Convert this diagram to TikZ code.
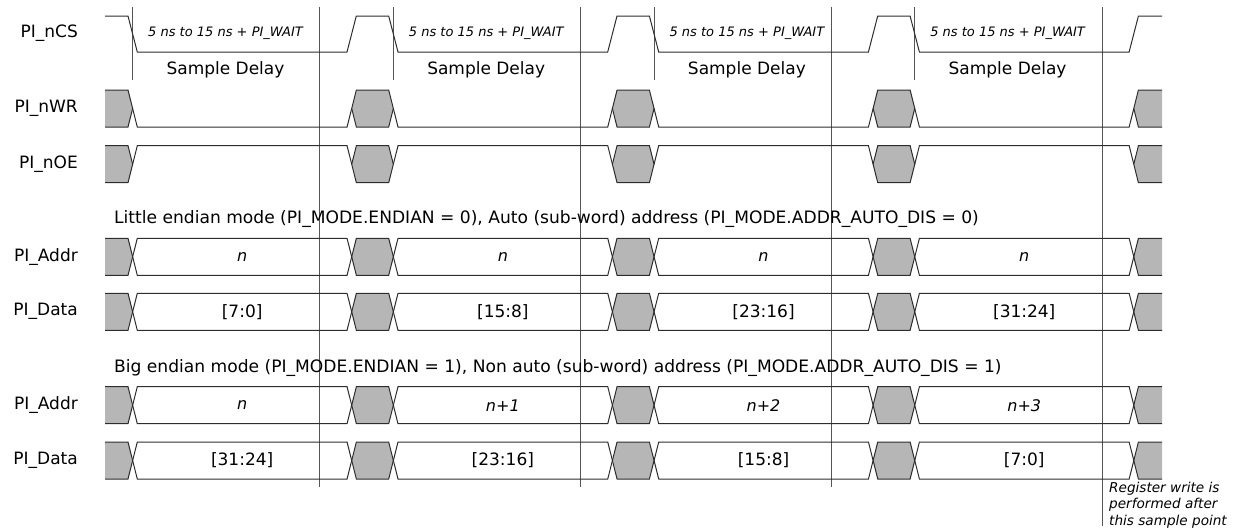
\documentclass[tikz,border=0pt]{standalone}
\usepackage{fontspec}
\setmainfont{DejaVu Sans}
\definecolor{sig}{RGB}{45,45,45}
\definecolor{hatch}{RGB}{182,182,182}
\definecolor{mark}{RGB}{85,85,85}
\tikzset{
  wave/.style={draw=sig, line width=1pt, line join=miter},
  inval/.style={wave, fill=hatch},
  smark/.style={draw=mark, line width=1pt},
  lab/.style={font=\fontsize{17}{17}\selectfont, inner sep=0pt, anchor=east},
  note/.style={font=\fontsize{17.1}{17}\selectfont, inner sep=0pt, anchor=west},
  val/.style={font=\fontsize{17}{17}\selectfont, inner sep=0pt},
  ival/.style={font=\itshape\fontsize{16}{16}\selectfont, inner sep=0pt},
  delay/.style={font=\itshape\fontsize{13}{13}\selectfont, inner sep=0pt},
  sdl/.style={font=\fontsize{17}{17}\selectfont, inner sep=0pt}
}
% hexagon: left point #2, right point #3, top #4, bottom #5
\newcommand\hexa[5][]{%
  \pgfmathsetmacro\hm{(#4+#5)/2}%
  \draw[#1] (#2,\hm) -- (#2+4.65,#4) -- (#3-4.65,#4) -- (#3,\hm) -- (#3-4.65,#5) -- (#2+4.65,#5) -- cycle;}
% bus row: top, bottom
\newcommand\busrow[2]{%
  \pgfmathsetmacro\hm{(#1+#2)/2}%
  \fill[hatch] (105,#1) -- (128,#1) -- (132.65,\hm) -- (128,#2) -- (105,#2) -- cycle;
  \draw[wave] (105,#1) -- (128,#1) -- (132.65,\hm) -- (128,#2) -- (105,#2);
  \fill[hatch] (1162,#1) -- (1138.4,#1) -- (1133.75,\hm) -- (1138.4,#2) -- (1162,#2) -- cycle;
  \draw[wave] (1162,#1) -- (1138.4,#1) -- (1133.75,\hm) -- (1138.4,#2) -- (1162,#2);
  \foreach \k in {1,2,3}{%
    \pgfmathsetmacro\ee{91+260.7*\k}%
    \pgfmathsetmacro\cc{132.65+260.7*\k}%
    \hexa[inval]{\ee}{\cc}{#1}{#2}}
  \foreach \k in {0,1,2,3}{%
    \pgfmathsetmacro\cc{132.65+260.7*\k}%
    \pgfmathsetmacro\ee{91+260.7*(\k+1)}%
    \hexa[wave]{\cc}{\ee}{#1}{#2}}
}
% control row: top, bottom, level after transition
\newcommand\ctlrow[3]{%
  \pgfmathsetmacro\hm{(#1+#2)/2}%
  \fill[hatch] (105,#1) -- (128,#1) -- (132.65,\hm) -- (128,#2) -- (105,#2) -- cycle;
  \draw[wave] (105,#1) -- (128,#1) -- (132.65,\hm) -- (128,#2) -- (105,#2);
  \fill[hatch] (1162,#1) -- (1138.4,#1) -- (1133.75,\hm) -- (1138.4,#2) -- (1162,#2) -- cycle;
  \draw[wave] (1162,#1) -- (1138.4,#1) -- (1133.75,\hm) -- (1138.4,#2) -- (1162,#2);
  \foreach \k in {1,2,3}{%
    \pgfmathsetmacro\ee{91+260.7*\k}%
    \pgfmathsetmacro\cc{132.65+260.7*\k}%
    \hexa[inval]{\ee}{\cc}{#1}{#2}}
  \foreach \k in {0,1,2,3}{%
    \pgfmathsetmacro\cc{132.65+260.7*\k}%
    \pgfmathsetmacro\ee{91+260.7*(\k+1)}%
    \draw[wave] (\cc,\hm) -- (\cc+4.65,#3) -- (\ee-4.65,#3) -- (\ee,\hm);}
}
\begin{document}
\begin{tikzpicture}[x=1pt,y=-1pt]
\useasboundingbox (0,0) rectangle (1242,531);

% sample point lines
\draw[smark] (319,7) -- (319,487);
\draw[smark] (580,7) -- (580,487);
\draw[smark] (831,7) -- (831,487);
\draw[smark] (1102,7) -- (1102,526);

% sample delay start markers
\foreach \k in {0,1,2,3}{
  \pgfmathsetmacro\cc{132.65+260.7*\k}
  \draw[smark] (\cc,7) -- (\cc,80);
}

% PI_nCS
\draw[wave] (105,16) -- (128,16) -- (137.3,52) -- (347,52) -- (356.3,16) -- (388.7,16)
  -- (398,52) -- (607.7,52) -- (617,16) -- (649.4,16) -- (658.7,52) -- (868.4,52)
  -- (877.7,16) -- (910.1,16) -- (919.4,52) -- (1129.1,52) -- (1138.4,16) -- (1162,16);

% PI_nWR (low after), PI_nOE (high after)
\ctlrow{90}{127}{127}
\ctlrow{145.7}{182.7}{145.7}

% bus rows
\busrow{238.3}{275.3}
\busrow{293.3}{330.3}
\busrow{386.7}{423.7}
\busrow{442}{479}

% labels
\node[lab] (lcs) at (78,33) {PI\_nCS};
\node[lab] (lwr) at (78,108.5) {PI\_nWR};
\node[lab] (loe) at (78,164.2) {PI\_nOE};
\node[lab] (la1) at (78,256.8) {PI\_Addr};
\node[lab] (ld1) at (78,311.8) {PI\_Data};
\node[lab] (la2) at (78,405.2) {PI\_Addr};
\node[lab] (ld2) at (78,460.5) {PI\_Data};

\foreach \k in {0,1,2,3}{
  \pgfmathsetmacro\xx{225.5+260.7*\k}
  \node[delay] (dl\k) at (\xx,33) {5 ns to 15 ns + PI\_WAIT};
  \node[sdl] (sd\k) at (\xx,70) {Sample Delay};
}

\node[note] (little) at (114,219.3) {Little endian mode (PI\_MODE.ENDIAN = 0), Auto (sub-word) address (PI\_MODE.ADDR\_AUTO\_DIS = 0)};
\node[note] (big) at (114,367.7) {Big endian mode (PI\_MODE.ENDIAN = 1), Non auto (sub-word) address (PI\_MODE.ADDR\_AUTO\_DIS = 1)};

\node[ival] (a10) at (242.15,256.8) {n};
\node[ival] (a11) at (502.85,256.8) {n};
\node[ival] (a12) at (763.55,256.8) {n};
\node[ival] (a13) at (1024.25,256.8) {n};
\node[val] (d10) at (242.15,311.8) {[7:0]};
\node[val] (d11) at (502.85,311.8) {[15:8]};
\node[val] (d12) at (763.55,311.8) {[23:16]};
\node[val] (d13) at (1024.25,311.8) {[31:24]};
\node[ival] (a20) at (242.15,405.2) {n};
\node[ival] (a21) at (502.85,405.2) {n+1};
\node[ival] (a22) at (763.55,405.2) {n+2};
\node[ival] (a23) at (1024.25,405.2) {n+3};
\node[val] (d20) at (242.15,460.5) {[31:24]};
\node[val] (d21) at (502.85,460.5) {[23:16]};
\node[val] (d22) at (763.55,460.5) {[15:8]};
\node[val] (d23) at (1024.25,460.5) {[7:0]};

\node[font=\itshape\fontsize{13.6}{16.3}\selectfont, align=left, inner sep=0pt, anchor=north west] (reg) at (1109,482)
  {Register write is\\performed after\\this sample point};
\end{tikzpicture}
\end{document}
